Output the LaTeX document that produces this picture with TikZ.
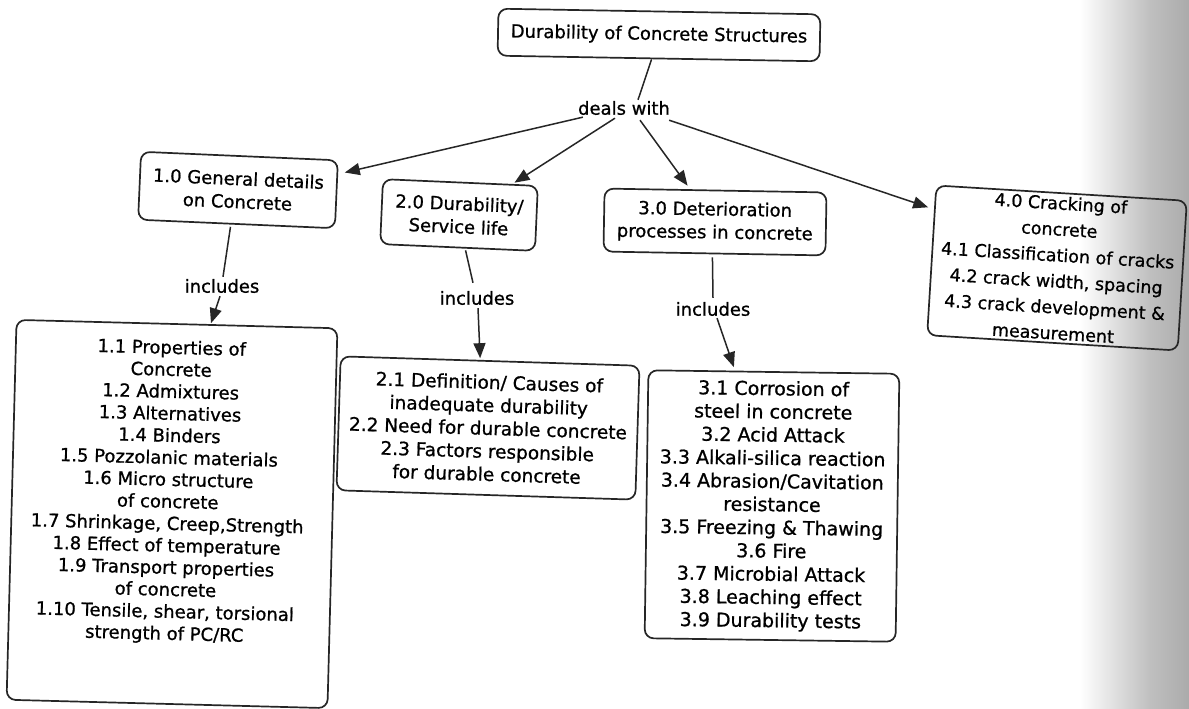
\documentclass[tikz,border=0pt]{standalone}
\usepackage{fontspec}
\setmainfont{DejaVu Sans}[FakeBold=0.9]
\usetikzlibrary{arrows.meta,calc}
\begin{document}
\begin{tikzpicture}[x=1pt,y=-1pt,
  ink/.style={draw=black!85, line width=1.7pt},
  cbox/.style={ink, rounded corners=9pt, align=center, inner sep=0pt,
    font=\fontsize{18}{23}\selectfont},
  lbl/.style={font=\fontsize{18}{22}\selectfont, inner sep=1pt},
  conn/.style={draw=black!85, line width=1.5pt},
  arr/.style={conn, -{Triangle[length=15pt,width=12pt]}},
]
\useasboundingbox (0,0) rectangle (1189,709);
\fill[white] (0,0) rectangle (1189,709);
\shade[left color=white, right color=black!25] (1080,0) rectangle (1150,709);
\shade[left color=black!25, right color=black!33] (1150,0) rectangle (1189,709);

% top level
\node[cbox, minimum width=322, minimum height=47, rotate=-1] (title) at (659,35)
  {Durability of Concrete Structures};
\node[lbl] (deals) at (624,108) {deals with};

% second level
\node[cbox, minimum width=197, minimum height=68, rotate=-2.5] (g1) at (238,190)
  {1.0 General details\\on Concrete};
\node[cbox, minimum width=155, minimum height=65, rotate=-2.5] (g2) at (459,215)
  {2.0 Durability/\\Service life};
\node[cbox, minimum width=222, minimum height=63, rotate=-1] (g3) at (715,222)
  {3.0 Deterioration\\processes in concrete};
\node[cbox, minimum width=251, minimum height=150, rotate=-3.5,
  font=\fontsize{17.5}{26}\selectfont] (g4) at (1057,268)
  {4.0 Cracking of\\concrete\\4.1 Classification of cracks\\4.2 crack width, spacing\\4.3 crack development \&\\measurement};

% linking phrases
\node[lbl] (inc1) at (222,286) {includes};
\node[lbl] (inc2) at (477,298) {includes};
\node[lbl] (inc3) at (713,309) {includes};

% third level
\node[cbox, minimum width=321, minimum height=380, rotate=-1.5] (s1) at (172,514) {};
\node[align=center, anchor=north, rotate=-1.5, inner sep=0pt,
  font=\fontsize{18}{22}\selectfont] (s1t) at (172,340)
  {1.1 Properties of\\Concrete\\1.2 Admixtures\\1.3 Alternatives\\1.4 Binders\\1.5 Pozzolanic materials\\1.6 Micro structure\\of concrete\\1.7 Shrinkage, Creep,Strength\\1.8 Effect of temperature\\1.9 Transport properties\\of concrete\\1.10 Tensile, shear, torsional\\strength of PC/RC};
\node[cbox, minimum width=299, minimum height=134, rotate=-1.8,
  font=\fontsize{18.5}{23}\selectfont] (s2) at (488,428)
  {2.1 Definition/ Causes of\\inadequate durability\\2.2 Need for durable concrete\\2.3 Factors responsible\\for durable concrete};
\node[cbox, minimum width=251, minimum height=268, rotate=-0.8,
  font=\fontsize{19}{23.2}\selectfont] (s3) at (772,506)
  {3.1 Corrosion of\\steel in concrete\\3.2 Acid Attack\\3.3 Alkali-silica reaction\\3.4 Abrasion/Cavitation\\resistance\\3.5 Freezing \& Thawing\\3.6 Fire\\3.7 Microbial Attack\\3.8 Leaching effect\\3.9 Durability tests};

% connectors
\draw[conn] ($(title.south)+(-7,0)$) -- ($(deals.north)+(14,0)$);
\draw[arr] ($(deals.south west)+(6,1)$) -- ($(g1.north east)+(6,13)$);
\draw[arr] ($(deals.south)+(-9,2)$) -- ($(g2.north)+(54,1)$);
\draw[arr] ($(deals.south)+(16,4)$) -- ($(g3.north)+(-28,-4)$);
\draw[arr] ($(deals.south east)+(-2,4)$) -- ($(g4.north west)!0.15!(g4.south west)+(-6,0)$);

\draw[conn] ($(g1.south)+(-6,2)$) -- ($(inc1.north)+(1,-1)$);
\draw[arr] ($(inc1.south)+(-2,2)$) -- ($(s1.north)+(34,0)$);
\draw[conn] ($(g2.south)+(8,2)$) -- ($(inc2.north)+(-4,-7)$);
\draw[arr] ($(inc2.south)+(1,2)$) -- ($(s2.north)+(-10,-2)$);
\draw[conn] ($(g3.south)+(-2,3)$) -- ($(inc3.north)+(0,-3)$);
\draw[arr] ($(inc3.south)+(4,1)$) -- ($(s3.north)+(-40,-4)$);
\end{tikzpicture}
\end{document}
